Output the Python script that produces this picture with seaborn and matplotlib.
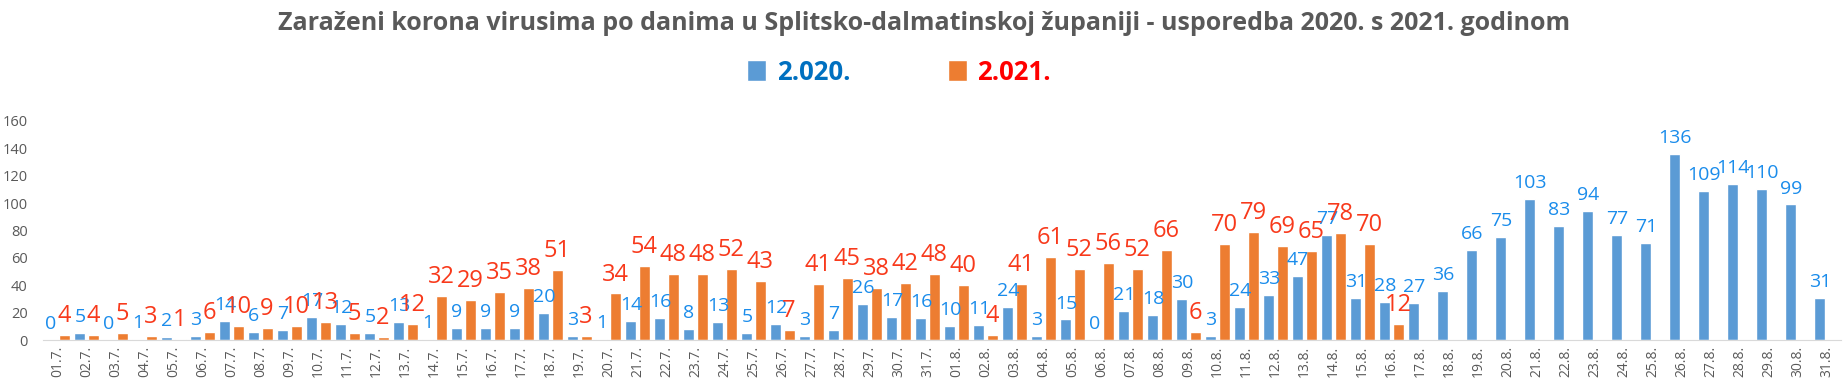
import numpy as np
import pandas as pd
import seaborn as sns
from matplotlib import pyplot as plt
from matplotlib.patches import Patch

# dates 01.7. - 31.8.
dates = ["%02d.7." % d for d in range(1, 32)] + ["%02d.8." % d for d in range(1, 32)]

cases_2020 = [0, 5, 0, 1, 2, 3, 14, 6, 7, 17, 12, 5, 13, 1, 9, 9, 9, 20, 3, 1,
              14, 16, 8, 13, 5, 12, 3, 7, 26, 17, 16,
              10, 11, 24, 3, 15, 0, 21, 18, 30, 3, 24, 33, 47, 77, 31, 28, 27, 36, 66,
              75, 103, 83, 94, 77, 71, 136, 109, 114, 110, 99, 31]

cases_2021 = [4, 4, 5, 3, 1, 6, 10, 9, 10, 13, 5, 2, 12, 32, 29, 35, 38, 51, 3, 34,
              54, 48, 48, 52, 43, 7, 41, 45, 38, 42, 48,
              40, 4, 41, 61, 52, 56, 52, 66, 6, 70, 79, 69, 65, 78, 70, 12]
cases_2021 = cases_2021 + [np.nan] * (len(dates) - len(cases_2021))

years = ["2.020.", "2.021."]
bar_colors = ["#5B9BD5", "#ED7D31"]
label_colors = ["#1A8CEB", "#F8391B"]
legend_colors = ["#0070C0", "#FF0000"]

title = "Zaraženi korona virusima po danima u Splitsko-dalmatinskoj županiji - usporedba 2020. s 2021. godinom"

df = pd.DataFrame({
    "Datum": dates * 2,
    "Godina": [years[0]] * len(dates) + [years[1]] * len(dates),
    "Zarazeni": cases_2020 + cases_2021,
}).dropna()

sns.set_style("white")
plt.rcParams["font.family"] = ["Open Sans", "DejaVu Sans"]

fig = plt.figure(figsize=(18.48, 3.91), dpi=100)
ax = fig.add_axes([43 / 1848, 1 - 340 / 391, (1841 - 43) / 1848, (340 - 121) / 391])

sns.barplot(data=df, x="Datum", y="Zarazeni", hue="Godina", order=dates,
            hue_order=years, palette=bar_colors, width=0.9, gap=0.16,
            saturation=1, legend=False, ax=ax)

sizes = [14, 17]
for cont, col, fs in zip(ax.containers, label_colors, sizes):
    ax.bar_label(cont, fmt="%d", color=col, fontsize=fs, padding=5)

ax.set_xlim(-0.5, len(dates) - 0.5)
ax.set_ylim(0, 160)
ax.set_yticks(range(0, 161, 20))
ax.set_xlabel("")
ax.set_ylabel("")
ax.tick_params(axis="x", rotation=90, labelsize=10, colors="#595959", length=0, pad=4)
ax.tick_params(axis="y", labelsize=10.5, colors="#595959", length=0, pad=11)
for s in ["top", "right", "left"]:
    ax.spines[s].set_visible(False)
ax.spines["bottom"].set_color("#D9D9D9")

fig.text(0.5, 1 - 24 / 391, title, ha="center", va="center", fontsize=18,
         fontweight="bold", color="#595959")

handles = [Patch(facecolor=c) for c in bar_colors]
leg = fig.legend(handles, years, loc="center", bbox_to_anchor=(899 / 1848, 1 - 72 / 391),
                 ncol=2, frameon=False, handlelength=0.75, handleheight=0.85,
                 handletextpad=0.4, columnspacing=3.8,
                 prop={"size": 18.5, "weight": "bold"})
for t, c in zip(leg.get_texts(), legend_colors):
    t.set_color(c)

fig.savefig("out.png", dpi=100)
